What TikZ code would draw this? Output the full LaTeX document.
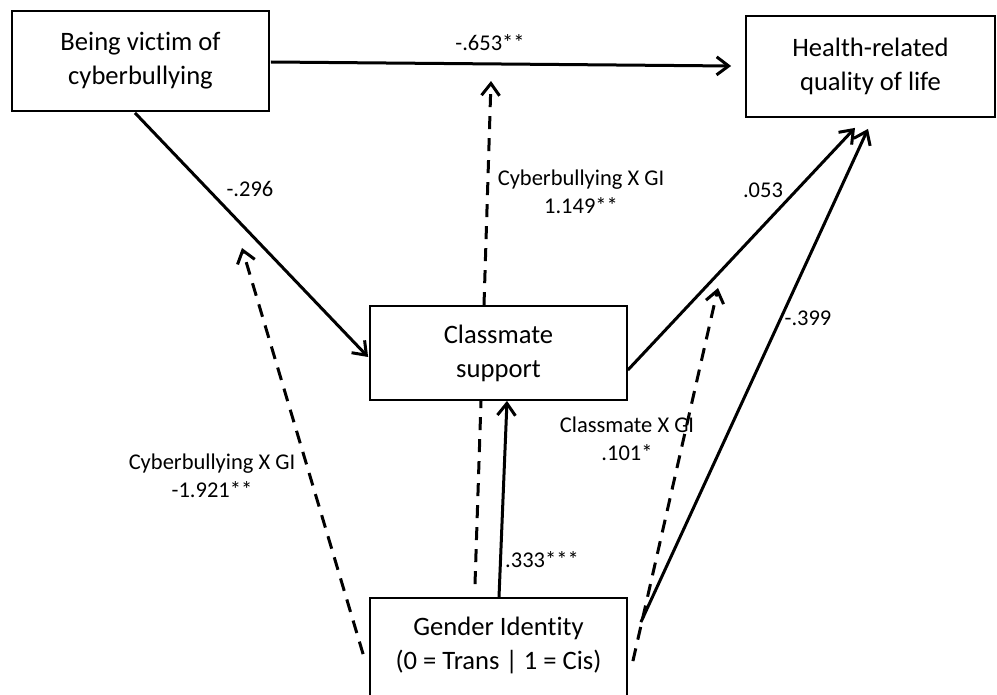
\documentclass[tikz,border=0pt]{standalone}
\usepackage{fontspec}
\setmainfont[Ligatures={NoCommon}]{Carlito}
\usetikzlibrary{arrows.meta,calc}
\begin{document}
\begin{tikzpicture}[x=1pt,y=-1pt,
  box/.style={draw, line width=1.8pt, inner sep=0, align=center, font=\fontsize{26.6}{34}\selectfont},
  btext/.style={inner sep=0, align=center, font=\fontsize{26.6}{34}\selectfont},
  lab/.style={inner sep=0, align=center, font=\fontsize{22.5}{28}\selectfont},
  arr/.style={line width=3pt, -{Straight Barb[length=12pt,width=18pt]}},
  dashln/.style={line width=3pt, dash pattern=on 13pt off 9pt}]
\useasboundingbox (0,0) rectangle (997,695);
\clip (0,0) rectangle (997,695);
\fill[white] (0,0) rectangle (997,695);

\node[box, minimum width=257pt, minimum height=100pt] (A) at (140.5,61) {Being victim of\\cyberbullying};
\node[box, minimum width=249pt, minimum height=101pt] (B) at (870.5,66.5) {Health-related\\quality of life};
\node[box, minimum width=257pt, minimum height=94pt] (C) at (498.5,353) {Classmate\\support};
\node[box, minimum width=257pt, minimum height=130pt] (G) at (498.5,663) {};
\node[btext] (Gt) at (498.5,645) {Gender Identity\\(0 = Trans | 1 = Cis)};

\coordinate (m1) at (242,248);
\coordinate (m2) at (491,81);
\coordinate (m3) at (718,288);

\draw[arr] ($(A.east)+(1,1)$) -- ($(B.west)+(-14,-0.5)$);
\draw[arr] ($(A.south)+(-5.5,1)$) -- ($(C.west)+(-1,4)$);
\draw[arr] ($(C.east)+(0,17)$) -- ($(B.south)+(-15.5,10)$);
\draw[arr] ($(G.north east)+(13,25)$) -- ($(B.south)+(-2.5,11)$);
\draw[arr] ($(G.north)+(0.5,0)$) -- ($(C.south)+(8.5,0)$);
\draw[dashln] ($(G.north)+(-23.5,-13)$) -- ($(C.south)+(-17.5,0)$);
\draw[dashln, arr] ($(C.north)+(-14.5,0)$) -- (m2);
\draw[dashln, arr] ($(G.north west)+(-6,57)$) -- (m1);
\draw[dashln, arr] ($(G.north east)+(5,64)$) -- (m3);

\node[lab] (l1) at (490,43) {-.653**};
\node[lab] (l2) at (250,189) {-.296};
\node[lab] (l3) at (212,476) {Cyberbullying X GI\\-1.921**};
\node[lab] (l4) at (581,192) {Cyberbullying X GI\\1.149**};
\node[lab] (l5) at (763,190) {.053};
\node[lab] (l6) at (808,318) {-.399};
\node[lab] (l7) at (627,439) {Classmate X GI\\.101*};
\node[lab] (l8) at (542,560) {.333***};
\end{tikzpicture}
\end{document}
